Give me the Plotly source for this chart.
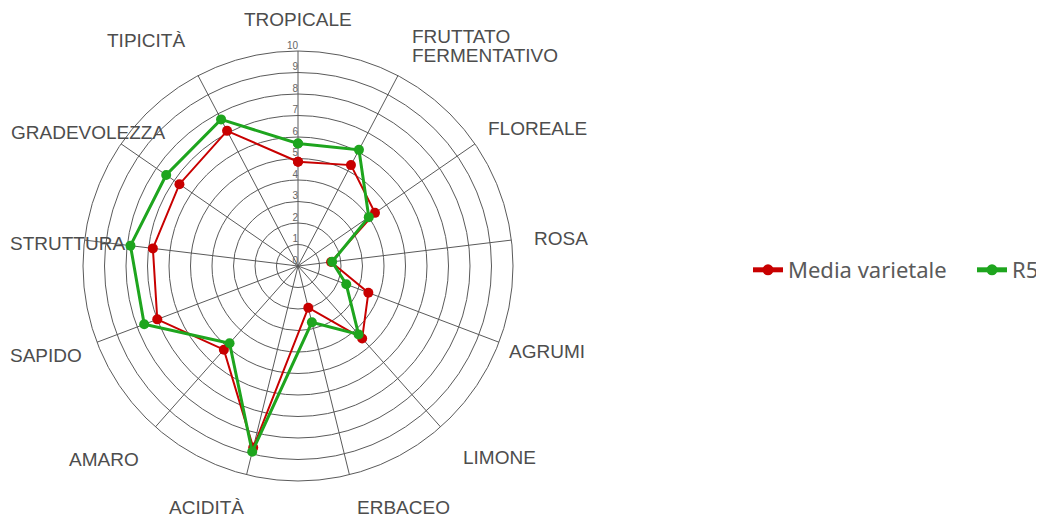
import plotly.graph_objects as go

categories = ["TROPICALE", "FRUTTATO<br>FERMENTATIVO", "FLOREALE", "ROSA", "AGRUMI",
              "LIMONE", "ERBACEO", "ACIDITÀ", "AMARO", "SAPIDO", "STRUTTURA",
              "GRADEVOLEZZA", "TIPICITÀ"]
media_varietale = [4.85, 5.3, 4.35, 1.55, 3.5, 4.5, 2.0, 8.7, 5.2, 7.0, 6.8, 6.7, 7.1]
r5 = [5.7, 6.1, 4.0, 1.6, 2.4, 4.25, 2.7, 8.9, 4.8, 7.65, 7.85, 7.45, 7.7]
radial_ticks = list(range(0, 11))

W, H = 1044, 519
OFF = 8  # page body margin in the browser

# screen-pixel positions of the category labels (layout only)
label_pos = {
    "TROPICALE": (298, 20, "center"),
    "FRUTTATO": (410, 37, "left"),
    "FERMENTATIVO": (410, 55, "left"),
    "FLOREALE": (537, 128, "center"),
    "ROSA": (561, 238, "center"),
    "AGRUMI": (547, 351, "center"),
    "LIMONE": (499, 457, "center"),
    "ERBACEO": (403, 507, "center"),
    "ACIDITÀ": (206, 507, "center"),
    "AMARO": (104, 459, "center"),
    "SAPIDO": (46, 355, "center"),
    "STRUTTURA": (67, 243, "center"),
    "GRADEVOLEZZA": (88, 133, "center"),
    "TIPICITÀ": (146, 40, "center"),
}

RED, GREEN = "#c80000", "#1ea51e"

def px(x, y):
    return (x - OFF) / W, 1 - (y - OFF) / H

def closed(v):
    return list(v) + [v[0]]

fig = go.Figure()
fig.add_trace(go.Scatterpolar(
    r=closed(media_varietale), theta=closed(categories), name="Media varietale",
    mode="lines+markers", line=dict(color=RED, width=2),
    marker=dict(color=RED, size=10), showlegend=False, legendgroup="m"))
fig.add_trace(go.Scatterpolar(
    r=closed(r5), theta=closed(categories), name="R5",
    mode="lines+markers", line=dict(color=GREEN, width=3),
    marker=dict(color=GREEN, size=10), showlegend=False, legendgroup="r"))
# legend entries (thicker symbol like the reference)
fig.add_trace(go.Scatterpolar(
    r=[None], theta=[categories[0]], name="Media varietale", mode="lines+markers",
    line=dict(color=RED, width=5), marker=dict(color=RED, size=11), legendgroup="m",
    hoverinfo="skip"))
fig.add_trace(go.Scatterpolar(
    r=[None], theta=[categories[0]], name="R5", mode="lines+markers",
    line=dict(color=GREEN, width=5), marker=dict(color=GREEN, size=11), legendgroup="r",
    hoverinfo="skip"))
fig.add_trace(go.Scatterpolar(
    r=radial_ticks, theta=[categories[0]] * len(radial_ticks),
    text=[str(t) for t in radial_ticks], mode="text", textposition="top left",
    textfont=dict(size=10, color="#666"), showlegend=False, hoverinfo="skip",
    cliponaxis=False))

annotations = []
for cat in categories:
    for part in cat.split("<br>"):
        x, y, al = label_pos[part]
        ax, ay = px(x, y)
        annotations.append(dict(
            text=part, x=ax, y=ay, xref="paper", yref="paper",
            xanchor=al, yanchor="middle", showarrow=False,
            font=dict(size=19, color="#4d4d4d", family="Liberation Sans, Arial, sans-serif")))

cx, cy, rad = 298, 266, 215
x0, y0 = px(cx - rad, cy + rad)
x1, y1 = px(cx + rad, cy - rad)
lx, ly = px(753 - 5, 270)

fig.update_layout(
    width=W, height=H,
    margin=dict(l=0, r=0, t=0, b=0, autoexpand=False),
    paper_bgcolor="white",
    font=dict(family="Liberation Sans, Arial, sans-serif", color="#444"),
    polar=dict(
        domain=dict(x=[x0, x1], y=[y0, y1]),
        bgcolor="white",
        angularaxis=dict(direction="clockwise", rotation=90,
                         showline=True, linecolor="#5a5a5a", linewidth=1,
                         gridcolor="#5a5a5a", gridwidth=1,
                         showticklabels=False, ticks=""),
        radialaxis=dict(range=[0, 10], tickvals=radial_ticks, angle=90,
                        showline=False, gridcolor="#5a5a5a", gridwidth=1,
                        showticklabels=False, ticks=""),
    ),
    annotations=annotations,
    legend=dict(orientation="h", x=lx, y=ly, xanchor="left", yanchor="middle",
                font=dict(size=22, color="#5a5a5a", family="Noto Sans, sans-serif"),
                itemwidth=30, entrywidth=179, entrywidthmode="pixels"),
)

fig.write_html("out.html")
